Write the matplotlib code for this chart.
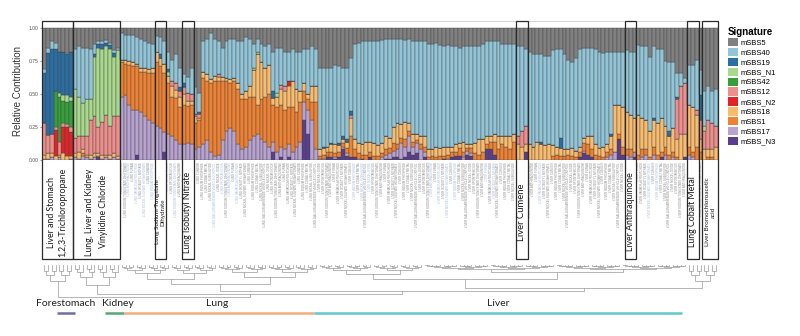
import numpy as np
import matplotlib
matplotlib.use('Agg')
import matplotlib.pyplot as plt
from matplotlib.patches import Rectangle, Patch
from matplotlib.transforms import blended_transform_factory

plt.rcParams['font.family'] = ['Liberation Sans', 'DejaVu Sans']

# signatures, legend order (top of stack first)
signatures = ['mSBS5', 'mSBS40', 'mSBS19', 'mSBS_N1', 'mSBS42', 'mSBS12',
              'mSBS_N2', 'mSBS18', 'mSBS1', 'mSBS17', 'mSBS_N3']
sig_colors = ['#808080', '#92c5d8', '#2b6ea3', '#a9d98d', '#35a03a', '#ef8f8c',
              '#e02428', '#f9bb6d', '#ee8132', '#b8a2cf', '#5a3e8e']

# contributions in percent, one value per sample (174 samples, 10 per row)
mSBS_N3 = [0,0,0,0,0,0,0,0,0,0, 0,0,0,0,2,0,0,0,0,0, 0,0,0,0,4,0,0,0,0,0,
           0,6,0,0,0,0,0,0,0,0, 0,0,0,0,0,0,0,0,0,0, 0,0,0,0,0,0,0,0,0,6,
           0,2,0,2,0,0,0,30,20,0, 0,0,0,2,2,1,2,8,3,2, 2,0,1,0,2,0,0,0,1,1,
           2,2,1,2,6,4,5,0,2,0, 0,0,0,1,0,2,3,3,0,4, 3,0,0,0,8,8,4,0,0,0,
           0,0,0,0,6,0,0,0,0,0, 0,0,0,0,0,0,0,0,2,5, 4,2,0,0,0,0,0,0,16,4,
           0,0,2,0,0,0,0,0,0,2, 0,0,0,0,0,2,0,0,0,0, 0,0,0,0]
mSBS17 = [1,1,2,0,2,0,0,1,2,1, 3,2,1,2,1,1,2,1,2,1, 48,49,42,38,34,36,33,30,28,26,
          24,15,20,18,15,12,12,13,12,8, 10,12,15,6,3,4,15,22,24,22, 12,8,10,15,18,20,16,14,10,8,
          6,8,8,10,6,10,14,14,18,30, 8,1,1,1,0,1,0,2,2,0, 0,1,0,0,0,0,0,2,3,4,
          5,6,12,8,12,6,8,8,4,0, 0,0,0,0,1,0,0,0,2,3, 2,0,0,0,0,0,0,0,0,0,
          0,0,0,0,0,0,0,0,0,0, 0,0,0,0,0,0,0,0,0,2, 0,0,0,0,0,2,4,6,0,0,
          4,2,4,0,2,4,0,4,0,0, 4,0,2,0,0,0,4,2,0,0, 0,0,0,0]
mSBS1 = [0,0,0,0,0,0,0,0,0,0, 2,0,0,0,0,0,0,0,0,0, 26,24,30,33,33,31,34,36,38,48,
         47,45,38,30,32,28,30,28,30,20, 20,50,45,52,57,56,45,38,34,38, 42,38,36,33,30,22,30,34,40,28,
         34,32,30,28,34,26,30,8,8,14, 36,2,3,3,4,3,4,3,4,16, 6,4,3,4,4,3,3,3,4,4,
         6,4,4,6,4,4,2,4,4,2, 3,2,3,2,3,4,3,6,4,2, 4,5,4,6,4,6,10,8,12,10,
         8,14,0,0,0,0,0,0,0,0, 0,3,4,3,3,4,3,2,4,6, 8,6,4,3,2,4,4,0,4,6,
         4,6,0,4,6,4,2,6,4,4, 6,4,4,2,0,0,6,4,10,6, 0,2,2,0]
mSBS18 = [3,4,3,3,2,5,3,2,3,5, 3,2,3,3,2,3,2,3,3,2, 2,3,3,3,2,3,3,3,4,8,
          6,7,6,8,6,8,8,4,3,5, 2,5,5,3,4,3,3,2,3,2, 4,4,6,8,20,38,28,22,22,5,
          8,12,14,16,20,18,8,6,4,12, 12,5,5,4,6,7,5,3,5,14, 8,8,8,10,8,10,8,8,10,8,
          12,16,10,13,6,6,5,6,8,6, 5,8,6,7,6,4,6,4,8,3, 3,8,12,10,6,4,6,10,6,8,
          10,6,12,10,6,12,10,14,12,11, 12,8,6,6,5,4,6,5,4,4, 6,10,8,6,8,6,10,36,22,30,
          28,26,26,30,24,22,20,20,24,26, 16,14,18,14,20,18,32,34,24,10, 8,6,6,10]
mSBS_N2 = [0,0,0,20,0,20,22,18,0,0, 0,0,0,0,0,0,0,0,0,0, 0,0,0,0,0,0,0,0,0,0,
           0,0,0,0,0,0,0,0,0,0, 0,0,0,0,0,0,0,0,0,0, 0,0,0,0,0,0,0,0,0,0,
           0,0,0,4,0,0,0,0,0,0, 0,0,0,0,0,0,0,0,0,0, 0,0,0,0,0,0,0,0,0,0,
           0,0,0,0,0,0,0,0,0,0, 0,0,0,0,0,0,0,0,0,0, 0,0,0,0,0,0,0,0,0,0,
           0,0,0,0,0,0,0,0,0,0, 0,0,0,0,0,0,0,0,0,0, 0,0,0,0,0,0,0,0,0,0,
           0,0,0,0,0,0,0,0,0,0, 0,0,0,0,0,0,0,0,0,0, 0,0,0,0]
mSBS12 = [24,14,15,2,10,3,2,4,12,12, 10,14,26,28,20,25,30,22,28,30, 0,0,0,0,0,0,0,0,0,0,
          0,0,0,4,5,4,5,6,5,2, 3,0,0,0,0,2,0,0,0,0, 0,0,0,0,0,0,0,0,0,0,
          0,3,4,0,0,0,0,0,0,0, 0,0,0,0,0,0,0,0,0,2, 0,0,0,0,0,0,0,0,0,0,
          0,0,0,0,0,0,0,0,0,0, 0,0,0,0,0,0,0,0,0,0, 0,0,0,0,0,0,0,0,0,0,
          0,0,6,12,14,0,0,0,0,0, 0,0,0,0,0,0,0,0,0,0, 0,0,0,0,0,0,0,0,0,0,
          0,0,0,0,0,0,0,0,0,0, 0,0,0,30,36,38,0,0,4,14, 14,22,20,16]
mSBS42 = [0,0,0,27,34,17,17,20,0,0, 0,0,0,0,0,0,0,0,0,0, 0,0,0,0,0,0,0,0,0,0,
          0,0,0,0,0,0,0,0,0,0, 0,0,0,0,0,0,0,0,0,0, 0,0,0,0,0,0,0,0,0,0,
          0,0,0,0,0,0,0,0,0,0, 0,0,0,0,0,0,0,0,0,0, 0,0,0,0,0,0,0,0,0,0,
          0,0,0,0,0,0,0,0,0,0, 0,0,0,0,0,0,0,0,0,0, 0,0,0,0,0,0,0,0,0,0,
          0,0,0,0,0,0,0,0,0,0, 0,0,0,0,0,0,0,0,0,0, 0,0,0,0,0,0,0,0,0,0,
          0,0,0,0,0,0,0,0,0,0, 0,0,0,0,0,0,0,0,0,0, 0,0,0,0]
mSBS_N1 = [0,0,0,0,3,4,5,3,37,30, 25,28,16,45,60,55,52,58,45,50, 0,0,0,0,0,0,0,0,0,0,
           0,0,3,0,0,0,0,0,0,0, 0,0,0,0,0,0,0,0,0,0, 0,0,0,0,2,2,0,0,0,0,
           3,0,0,0,0,0,0,0,0,0, 0,0,0,0,0,0,0,0,0,0, 0,0,0,0,0,0,0,0,0,0,
           0,0,0,0,0,0,0,0,0,0, 0,0,0,0,0,0,0,0,0,0, 0,0,0,0,0,0,0,0,0,0,
           0,0,0,0,0,0,0,0,0,0, 0,0,0,0,0,0,0,0,0,0, 0,0,0,0,0,0,0,0,0,0,
           0,0,0,0,0,0,0,0,0,0, 0,0,0,0,0,0,0,0,0,0, 4,0,0,0]
mSBS19 = [38,62,64,32,31,33,31,34,0,0, 0,0,0,2,3,4,3,3,3,0, 0,0,0,0,0,0,0,0,0,0,
          3,0,2,0,0,3,3,0,0,0, 1,0,0,0,0,0,0,0,0,0, 0,0,0,0,0,0,0,0,0,5,
          0,0,0,0,0,0,0,0,0,0, 0,0,1,0,1,0,2,2,2,3, 0,0,0,0,0,0,0,0,0,0,
          0,0,0,0,0,0,0,0,0,0, 0,0,0,0,0,0,0,0,0,0, 0,0,0,0,0,0,0,0,0,0,
          0,0,0,0,0,0,0,0,2,0, 0,0,0,8,0,0,0,0,0,0, 0,0,0,0,0,0,2,0,0,0,
          0,0,0,0,0,0,0,2,0,0, 0,4,0,2,0,0,0,0,0,19, 0,0,0,0]
mSBS40 = [3,4,6,5,0,0,1,0,30,38, 42,39,38,8,2,2,2,2,2,2, 20,19,20,21,20,22,20,20,18,12,
          13,17,13,16,22,15,7,12,20,20, 15,23,27,35,28,25,22,28,31,30, 32,40,41,36,18,10,14,16,16,30,
          34,28,26,22,24,28,30,26,34,30, 28,62,60,60,57,60,58,52,54,40, 72,76,78,76,76,77,79,78,74,75,
          67,64,65,62,64,70,70,72,72,80, 80,79,78,76,77,76,74,72,72,74, 74,73,70,72,72,72,70,72,70,70,
          70,68,68,64,58,70,70,66,66,68, 67,72,74,67,72,68,65,70,74,68, 67,67,72,73,71,70,62,40,40,42,
          47,48,50,53,54,56,56,54,56,52, 49,52,50,18,10,4,30,32,38,19, 26,26,24,28]
mSBS5 = [31,15,10,11,18,18,19,18,16,14, 15,15,16,12,10,10,9,11,17,15, 4,5,5,5,7,8,10,11,12,6,
         7,10,18,24,20,30,35,37,30,45, 49,10,8,4,8,10,15,10,8,8, 10,10,7,8,12,8,12,14,12,18,
         15,15,18,18,16,18,18,16,16,14, 16,30,30,30,30,28,29,30,30,23, 12,11,10,10,10,10,10,9,8,8,
         8,8,8,9,8,10,10,10,10,12, 12,11,13,14,13,14,14,15,14,14, 14,14,14,12,10,10,10,10,12,12,
         12,12,14,14,16,18,20,20,20,21, 21,17,16,16,20,24,26,23,16,15, 15,15,16,18,19,18,18,18,18,18,
         17,18,18,13,14,14,22,14,16,16, 25,26,26,34,34,38,28,28,24,32, 48,44,48,46]

# stacking order from the bottom up
stack = [mSBS_N3, mSBS17, mSBS1, mSBS18, mSBS_N2, mSBS12, mSBS42, mSBS_N1, mSBS19, mSBS40, mSBS5]
stack_names = signatures[::-1]
stack_colors = sig_colors[::-1]

# highlighted exposure groups: (first sample, last sample), label, font size, line spacing
box_spans = [(0, 7), (8, 19), (29, 31), (36, 38), (122, 124), (150, 152), (166, 168), (170, 173)]
box_labels = ['Liver and Stomach\n1,2,3-Trichloropropane', 'Lung, Liver and Kidney\nVinylidine Chloride',
              'Lung Sodium Tungstate\nDihydrate', 'Lung Isobutyl Nitrate', 'Liver Cumene',
              'Liver Anthraquinone', 'Lung Cobalt Metal', 'Liver Bromochloroacetic\nacid']
box_fs = [6.3, 6.3, 4.5, 6.3, 6.8, 6.3, 6.3, 4.6]
box_ls = [1.3, 1.7, 1.1, 1.2, 1.2, 1.2, 1.2, 1.1]

# tissue of origin shown under the dendrogram
tissues = ['Forestomach', 'Kidney', 'Lung', 'Liver']
tissue_spans = [(3.3, 8.0), (15.7, 20.6), (20.6, 69.5), (69.5, 164.2)]
tissue_text_x = [5.5, 19.0, 44.5, 117.0]
tissue_colors = ['#6e6fa3', '#55a77a', '#f2ac7e', '#62c6cb']

# sample names (too small to read in the figure)
sample_tissue_runs = [('STOMACH', 4), ('LIVER', 4), ('KIDNEY', 4), ('LUNG', 8), ('LUNG', 51),
                      ('LIVER', 95), ('LUNG', 4), ('LIVER', 4)]
chemicals = ['NICKEL SULFATE HEXAHYDRATE', 'SODIUM TUNGSTATE DIHYDRATE', 'COBALT METAL',
             'VANADIUM PENTOXIDE', 'NICKEL OXIDE', 'CUMENE', 'ANTHRAQUINONE',
             'NICKEL SUBSULFIDE', 'ISOBUTYL NITRATE', 'SPONTANEOUS', 'INDIUM PHOSPHIDE',
             'FURAN', 'GALLIUM ARSENIDE VEHICLE CONTROL']
blue_runs = [(22, 35), (44, 50), (80, 84), (100, 106), (113, 117), (128, 129), (155, 158)]

n = len(mSBS5)
for s in stack:
    assert len(s) == n, len(s)
vals = np.array(stack, dtype=float)
vals = vals / vals.sum(axis=0)
x = np.arange(n)

W, H = 800, 336
fig = plt.figure(figsize=(W / 100, H / 100), dpi=100)
ax = fig.add_axes([42 / W, 1 - 160 / H, 676 / W, 139 / H])

def fy(py):
    return 1 - py / H

bottom = np.zeros(n)
for v, name, col in zip(vals, stack_names, stack_colors):
    ax.bar(x, v, width=1.0, bottom=bottom, color=col, edgecolor='#454545', linewidth=0.3, label=name)
    bottom += v

ax.set_xlim(-0.5, n - 0.5)
ax.set_ylim(0, 1.053)
ax.set_xticks([])
ax.set_yticks([0, 0.25, 0.5, 0.75, 1.0])
ax.set_yticklabels(['0.00', '0.25', '0.50', '0.75', '1.00'])
ax.tick_params(axis='y', labelsize=3.6, colors='#555555', length=1.5, width=0.4, pad=1)
ax.set_ylabel('Relative Contribution', fontsize=7, color='#333333', labelpad=4)
for side in ['left', 'right', 'bottom']:
    ax.spines[side].set_visible(False)
ax.spines['top'].set_color('#cfcfcf')
ax.spines['top'].set_linewidth(0.6)

trans = blended_transform_factory(ax.transData, fig.transFigure)

# sample labels (the ones under a highlight box are covered, so skip them)
names = []
for tissue, cnt in sample_tissue_runs:
    for k in range(cnt):
        names.append(tissue + ' ' + chemicals[(len(names) * 5) % len(chemicals)])
for i, nm in enumerate(names):
    if any(a <= i <= b for a, b in box_spans):
        continue
    blue = any(a <= i <= b for a, b in blue_runs) and i % 2 == 0
    ax.text(i, fy(162), nm, rotation=90, ha='center', va='top', fontsize=2.1,
            color='#a3bde3' if blue else '#8a8a8a', transform=trans, clip_on=False, zorder=1)

# highlight boxes
for (a, b), lab, fs, ls in zip(box_spans, box_labels, box_fs, box_ls):
    ax.add_patch(Rectangle((a - 0.5, fy(259)), b - a + 1, fy(161) - fy(259), transform=trans,
                           facecolor='white', edgecolor='none', clip_on=False, zorder=5))
    ax.add_patch(Rectangle((a - 0.5, fy(259)), b - a + 1, fy(21) - fy(259), transform=trans,
                           facecolor='none', edgecolor='#2a2a2a', linewidth=0.9, clip_on=False, zorder=6))
    ax.text((a + b) / 2, fy(212), lab, rotation=90, ha='center', va='center', fontsize=fs,
            family='Lato', color='#1a1a1a', multialignment='center', linespacing=ls,
            transform=trans, clip_on=False, zorder=7)

# dendrogram
LEAF_Y = 265
dkw = dict(color='#9a9a9a', linewidth=0.5, transform=trans, clip_on=False, zorder=3)

def join(left, right, h):
    xl, yl = left
    xr, yr = right
    ax.plot([xl, xl, xr, xr], [fy(yl), fy(h), fy(h), fy(yr)], **dkw)
    return ((xl + xr) / 2, h)

def subtree(a, b, h):
    if a == b:
        return (a, LEAF_Y)
    m = (a + b) // 2
    hc = LEAF_Y + (h - LEAF_Y) * 0.6
    return join(subtree(a, m, hc), subtree(m + 1, b, hc), h)

fore = subtree(0, 7, 281)
kid = subtree(8, 19, 285)
lung = join(subtree(20, 44, 279), subtree(45, 70, 277), 284)
liver = join(subtree(71, 97, 274), subtree(98, 165, 272), 279)
right = subtree(166, 173, 281)
rest = join(kid, join(lung, join(liver, right, 288), 291), 294)
join(fore, rest, 297)

# tissue annotation
for t, (a, b), tx, c in zip(tissues, tissue_spans, tissue_text_x, tissue_colors):
    ax.plot([a, b], [fy(313), fy(313)], color=c, linewidth=1.8, solid_capstyle='butt',
            transform=trans, clip_on=False)
    ax.text(tx, fy(306), t, ha='center', va='baseline', fontsize=7.5, family='Lato',
            color='#222222', transform=trans, clip_on=False)

# legend
handles = [Patch(facecolor=c, edgecolor='none') for c in sig_colors]
leg = fig.legend(handles, signatures, loc='upper left', bbox_to_anchor=(728 / W, fy(27)),
                 frameon=False, title='Signature', fontsize=5.5, title_fontsize=7,
                 handlelength=1.3, handleheight=1.3, labelspacing=0.15, handletextpad=0.35,
                 borderpad=0, borderaxespad=0, alignment='left')
leg.get_title().set_fontweight('bold')

fig.savefig('out.png', dpi=100)
